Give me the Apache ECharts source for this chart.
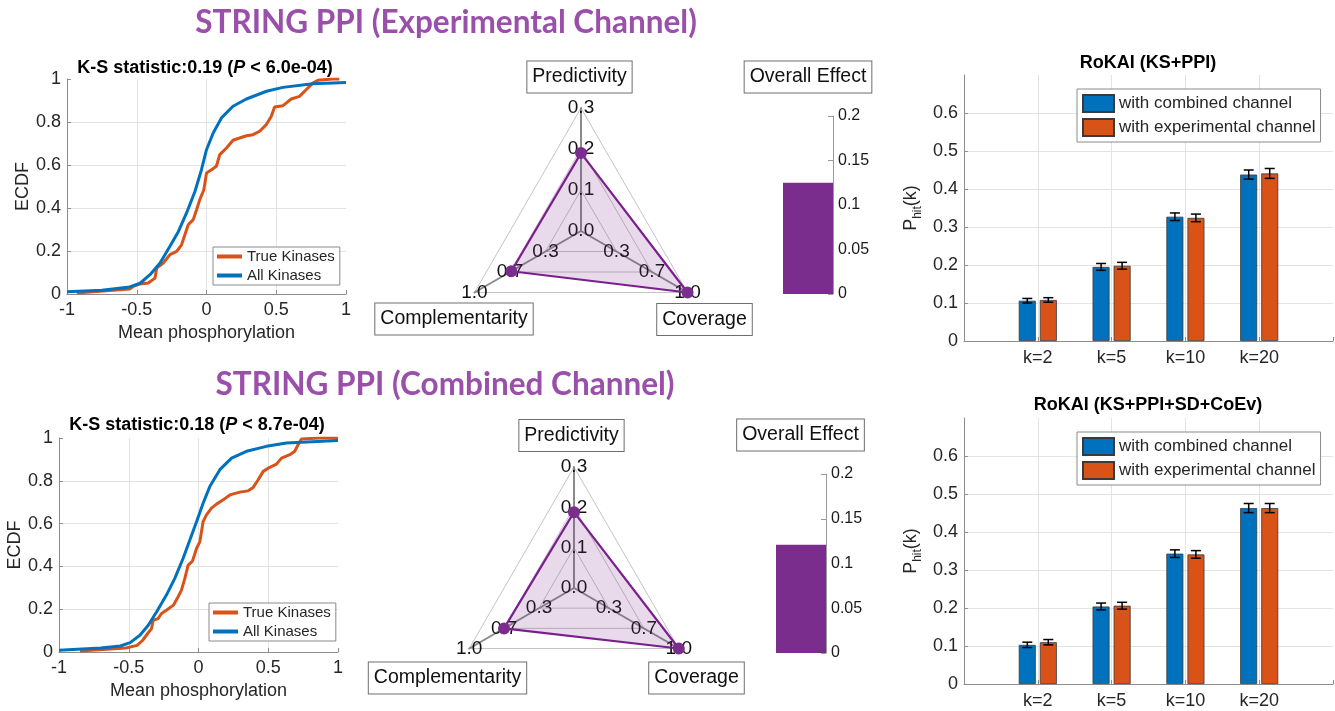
<!DOCTYPE html>
<html>
<head>
<meta charset="utf-8">
<script src="https://cdn.jsdelivr.net/npm/echarts@6/dist/echarts.min.js"></script>
<style>
  html, body { margin: 0; padding: 0; background: #fff; }
  #chart { width: 1335px; height: 711px; }
</style>
</head>
<body>
<div id="chart"></div>
<script>
// ---------- data ----------
// ECDF curves: [mean phosphorylation, cumulative fraction]
const ecdfExpTrue = [[-0.93,0.005],[-0.55,0.023],[-0.524,0.036],[-0.476,0.047],[-0.417,0.051],[-0.369,0.074],[-0.357,0.121],[-0.31,0.144],[-0.262,0.183],[-0.214,0.198],[-0.179,0.229],[-0.155,0.276],[-0.131,0.322],[-0.095,0.346],[-0.071,0.392],[-0.048,0.439],[-0.019,0.485],[0.0,0.563],[0.036,0.578],[0.071,0.594],[0.095,0.648],[0.143,0.679],[0.19,0.715],[0.286,0.736],[0.333,0.741],[0.381,0.757],[0.429,0.788],[0.464,0.826],[0.488,0.87],[0.548,0.876],[0.571,0.888],[0.607,0.907],[0.667,0.919],[0.714,0.95],[0.762,0.981],[0.798,0.994],[0.905,1.0],[0.952,1.0]];
const ecdfExpAll = [[-1.0,0.01],[-0.75,0.017],[-0.55,0.033],[-0.476,0.05],[-0.405,0.09],[-0.333,0.144],[-0.262,0.222],[-0.202,0.29],[-0.143,0.377],[-0.083,0.477],[-0.036,0.578],[0.0,0.671],[0.048,0.749],[0.107,0.819],[0.19,0.873],[0.286,0.907],[0.43,0.943],[0.548,0.961],[0.762,0.978],[1.0,0.984]];
const ecdfCombTrue = [[-0.85,0.005],[-0.52,0.019],[-0.44,0.031],[-0.4,0.055],[-0.36,0.09],[-0.337,0.109],[-0.325,0.148],[-0.29,0.156],[-0.265,0.18],[-0.23,0.195],[-0.18,0.219],[-0.146,0.258],[-0.122,0.289],[-0.098,0.344],[-0.074,0.406],[-0.043,0.425],[-0.014,0.484],[0.01,0.516],[0.033,0.609],[0.057,0.641],[0.093,0.672],[0.129,0.691],[0.177,0.711],[0.225,0.734],[0.296,0.747],[0.356,0.753],[0.392,0.769],[0.428,0.805],[0.464,0.844],[0.511,0.863],[0.559,0.878],[0.595,0.906],[0.655,0.922],[0.69,0.938],[0.714,0.969],[0.738,0.995],[0.87,1.0],[1.0,1.0]];
const ecdfCombAll = [[-1.0,0.008],[-0.7,0.019],[-0.56,0.028],[-0.49,0.044],[-0.42,0.078],[-0.36,0.125],[-0.3,0.188],[-0.23,0.266],[-0.17,0.344],[-0.11,0.438],[-0.062,0.523],[-0.014,0.609],[0.033,0.695],[0.081,0.773],[0.153,0.852],[0.237,0.906],[0.344,0.938],[0.487,0.961],[0.63,0.977],[1.0,0.988]];

// Radar scores: [Predictivity, Complementarity, Coverage]
const radarIndicators = ['Predictivity', 'Complementarity', 'Coverage'];
const radarMax = [0.3, 1.0, 1.0];
const radarExp = [0.19, 0.654, 1.0];
const radarComb = [0.188, 0.668, 1.0];

// Overall effect
const overallExp = 0.125;
const overallComb = 0.121;

// Hit rates
const kLabels = ['k=2', 'k=5', 'k=10', 'k=20'];
const hitKsPpiCombined = [0.106, 0.195, 0.327, 0.438];
const hitKsPpiExperimental = [0.108, 0.198, 0.324, 0.441];
const errKsPpiCombined = [0.006, 0.009, 0.010, 0.012];
const errKsPpiExperimental = [0.006, 0.009, 0.010, 0.013];
const hitFullCombined = [0.103, 0.204, 0.343, 0.463];
const hitFullExperimental = [0.110, 0.206, 0.341, 0.463];
const errFullCombined = [0.007, 0.009, 0.010, 0.012];
const errFullExperimental = [0.007, 0.009, 0.010, 0.012];

// ---------- styling ----------
const FONT = '"Liberation Sans", Arial, sans-serif';
const TXT = '#262626';
const AXIS = '#8c8c8c';
const GRIDC = '#e3e3e3';
const NONE = 'rgba(0,0,0,0)';
const ORANGE = '#D95319';
const BLUE = '#0072BD';
const PURPLE = '#7B2D8E';
const TITLE_PURPLE = '#9A4FAB';

function ecdfX(idx) {
  return {
    type: 'value', gridIndex: idx, min: -1, max: 1, interval: 0.5,
    axisLine: { show: true, onZero: false, lineStyle: { color: AXIS } },
    axisTick: { show: true, inside: true, length: 4, lineStyle: { color: AXIS } },
    axisLabel: { fontSize: 18, color: TXT, fontFamily: FONT, margin: 7 },
    splitLine: { show: true, lineStyle: { color: [GRIDC, GRIDC, GRIDC, GRIDC, NONE] } },
    name: 'Mean phosphorylation', nameLocation: 'middle', nameGap: 30,
    nameTextStyle: { fontSize: 18, color: TXT, fontFamily: FONT }
  };
}
function ecdfY(idx) {
  return {
    type: 'value', gridIndex: idx, min: 0, max: 1, interval: 0.2,
    axisLine: { show: true, onZero: false, lineStyle: { color: AXIS } },
    axisTick: { show: true, inside: true, length: 4, lineStyle: { color: AXIS } },
    axisLabel: { fontSize: 18, color: TXT, fontFamily: FONT, margin: 6 },
    splitLine: { show: true, lineStyle: { color: [GRIDC, GRIDC, GRIDC, GRIDC, GRIDC, NONE] } },
    name: 'ECDF', nameLocation: 'middle', nameGap: 35, nameRotate: 90,
    nameTextStyle: { fontSize: 18, color: TXT, fontFamily: FONT }
  };
}
function overallX(idx) {
  return { type: 'category', gridIndex: idx, data: [''], show: false };
}
function overallY(idx) {
  return {
    type: 'value', gridIndex: idx, position: 'right', min: 0, max: 0.2, interval: 0.05,
    axisLine: { show: true, lineStyle: { color: '#9a9a9a' } },
    axisTick: { show: true, inside: true, length: 5, lineStyle: { color: '#9a9a9a' } },
    axisLabel: { fontSize: 16, color: '#1a1a1a', fontFamily: FONT, margin: 5 },
    splitLine: { show: false }
  };
}
const hitCats = [' '].concat(kLabels, ['  ']);
function hitX(idx) {
  return {
    type: 'category', gridIndex: idx, data: hitCats, boundaryGap: false,
    axisLine: { show: true, lineStyle: { color: AXIS } },
    axisTick: { show: true, inside: true, length: 4, lineStyle: { color: AXIS } },
    axisLabel: { fontSize: 18, color: TXT, fontFamily: FONT, margin: 8, interval: 0 },
    splitLine: { show: true, lineStyle: { color: [NONE, GRIDC, GRIDC, GRIDC, GRIDC, NONE] } }
  };
}
function hitY(idx) {
  return {
    type: 'value', gridIndex: idx, min: 0, max: 0.7, interval: 0.1,
    axisLine: { show: true, lineStyle: { color: AXIS } },
    axisTick: { show: true, inside: true, length: 4, lineStyle: { color: AXIS } },
    axisLabel: { fontSize: 18, color: TXT, fontFamily: FONT, margin: 6, showMaxLabel: false },
    splitLine: { show: true, lineStyle: { color: [NONE, GRIDC, GRIDC, GRIDC, GRIDC, GRIDC, GRIDC, NONE] } },
    name: '{p|P}{s|hit}{p|(k)}', nameLocation: 'middle', nameGap: 40, nameRotate: 90,
    nameTextStyle: {
      color: TXT, fontFamily: FONT,
      rich: {
        p: { fontSize: 18, color: TXT, fontFamily: FONT, lineHeight: 22, verticalAlign: 'top' },
        s: { fontSize: 12, color: TXT, fontFamily: FONT, lineHeight: 22, verticalAlign: 'bottom' }
      }
    }
  };
}

function radarDef(center, radius) {
  return {
    center: center, radius: radius, startAngle: 90, splitNumber: 3, shape: 'polygon',
    indicator: radarIndicators.map((n, i) => ({ name: n, min: 0, max: radarMax[i] })),
    axisName: { show: false },
    axisLine: { lineStyle: { color: '#8a8a8a', width: 2 } },
    splitLine: { lineStyle: { color: '#c4c4c4', width: 1 } },
    splitArea: { show: false },
    axisTick: { show: false },
    axisLabel: { show: false }
  };
}
// ring tick values along each radar axis; the shared centre value is printed once
function ringLevels() {
  const levels = [];
  for (let s = 0; s <= 3; s++) {
    levels.push({ value: radarMax.map((m, i) => (s === 0 && i > 0) ? '-' : m * s / 3) });
  }
  return levels;
}
function radarTickSeries(idx) {
  return {
    type: 'radar', radarIndex: idx, z: 2, silent: true,
    symbol: 'circle', symbolSize: 1,
    itemStyle: { color: NONE },
    lineStyle: { width: 0, opacity: 0 },
    label: {
      show: true, position: 'inside', fontSize: 19, color: '#111', fontFamily: FONT,
      formatter: p => { const v = Number(p.value); return isFinite(v) ? v.toFixed(1) : ''; }
    },
    emphasis: { disabled: true },
    data: ringLevels()
  };
}
function radarDataSeries(idx, vals) {
  return {
    type: 'radar', radarIndex: idx, z: 3, silent: true,
    symbol: 'circle', symbolSize: 12,
    itemStyle: { color: PURPLE },
    lineStyle: { color: '#7B1E8E', width: 2.2 },
    areaStyle: { color: 'rgba(126,47,142,0.25)' },
    emphasis: { disabled: true },
    data: [{ value: vals }]
  };
}
function ecdfLine(name, data, idx, color) {
  return {
    type: 'line', name: name, data: data, xAxisIndex: idx, yAxisIndex: idx,
    showSymbol: false, symbol: 'none', lineStyle: { color: color, width: 3 },
    itemStyle: { color: color }, silent: true
  };
}
function hitBar(name, vals, idx, color) {
  return {
    type: 'bar', name: name, xAxisIndex: idx, yAxisIndex: idx,
    data: [null].concat(vals, [null]), barWidth: 17, barGap: '24%',
    itemStyle: { color: color, borderColor: '#3a3a3a', borderWidth: 0.8 }, silent: true
  };
}
function hitErr(vals, errs, idx, offset) {
  return {
    type: 'custom', xAxisIndex: idx, yAxisIndex: idx, silent: true, z: 5,
    data: vals.map((v, i) => [i + 1, v, errs[i]]),
    renderItem: function (params, api) {
      const c = api.value(0), v = api.value(1), e = api.value(2);
      const hi = api.coord([c, v + e]);
      const lo = api.coord([c, v - e]);
      const x = hi[0] + offset;
      const st = { stroke: '#000', lineWidth: 1.5 };
      return {
        type: 'group', children: [
          { type: 'line', shape: { x1: x, y1: hi[1], x2: x, y2: lo[1] }, style: st },
          { type: 'line', shape: { x1: x - 5, y1: hi[1], x2: x + 5, y2: hi[1] }, style: st },
          { type: 'line', shape: { x1: x - 5, y1: lo[1], x2: x + 5, y2: lo[1] }, style: st }
        ]
      };
    }
  };
}
function boxLabel(text, cx, cy) {
  return {
    type: 'text', x: cx, y: cy, silent: true,
    style: {
      text: text, fill: '#111', font: '19.5px ' + FONT, align: 'center', verticalAlign: 'middle',
      backgroundColor: '#fff', borderColor: '#6e6e6e', borderWidth: 1, padding: [6, 5, 5, 5]
    }
  };
}
function plainTitle(text, cx, cy, size, color, weight, family) {
  return {
    type: 'text', x: cx, y: cy, silent: true,
    style: { text: text, fill: color, font: weight + ' ' + size + 'px ' + family, align: 'center', verticalAlign: 'middle' }
  };
}
function ksTitle(stat, pval, cx, cy) {
  return {
    type: 'text', x: cx, y: cy, silent: true,
    style: {
      text: '{n|K-S statistic:' + stat + ' (}{i|P}{n| < ' + pval + ')}',
      align: 'center', verticalAlign: 'middle',
      rich: {
        n: { fontSize: 18, fontWeight: 'bold', fontFamily: FONT, fill: '#000', color: '#000' },
        i: { fontSize: 18, fontWeight: 'bold', fontStyle: 'italic', fontFamily: FONT, fill: '#000', color: '#000' }
      }
    }
  };
}
function legendBox(left, top, names, opts) {
  return Object.assign({
    left: left, top: top, orient: 'vertical', data: names, icon: 'rect',
    backgroundColor: '#fff', borderColor: '#8a8a8a', borderWidth: 1,
    selectedMode: false,
    textStyle: { color: TXT, fontFamily: FONT }
  }, opts);
}

const option = {
  animation: false,
  backgroundColor: '#fff',
  grid: [
    { left: 67, top: 79, width: 279, height: 215, outerBoundsMode: 'none' },
    { left: 59, top: 438, width: 279, height: 214, outerBoundsMode: 'none' },
    { left: 783, top: 116, width: 50, height: 178, outerBoundsMode: 'none' },
    { left: 776, top: 474, width: 50, height: 179, outerBoundsMode: 'none' },
    { left: 964, top: 75, width: 369, height: 266, outerBoundsMode: 'none' },
    { left: 964, top: 418, width: 369, height: 266, outerBoundsMode: 'none' }
  ],
  xAxis: [ecdfX(0), ecdfX(1), overallX(2), overallX(3), hitX(4), hitX(5)],
  yAxis: [ecdfY(0), ecdfY(1), overallY(2), overallY(3), hitY(4), hitY(5)],
  radar: [radarDef([581, 231], 123), radarDef([574, 588], 121)],
  legend: [
    legendBox(213, 247, ['True Kinases', 'All Kinases'], { itemWidth: 25, itemHeight: 4, itemGap: 4, padding: [2, 5, 2, 4], textStyle: { color: TXT, fontFamily: FONT, fontSize: 15 } }),
    legendBox(209, 603, ['True Kinases', 'All Kinases'], { itemWidth: 25, itemHeight: 4, itemGap: 4, padding: [2, 5, 2, 4], textStyle: { color: TXT, fontFamily: FONT, fontSize: 15 } }),
    legendBox(1077, 89, ['with combined channel', 'with experimental channel'], { itemWidth: 31, itemHeight: 17, itemGap: 5, padding: [5, 5, 5, 5], textStyle: { color: TXT, fontFamily: FONT, fontSize: 17 } }),
    legendBox(1077, 432, ['with combined channel', 'with experimental channel'], { itemWidth: 31, itemHeight: 17, itemGap: 5, padding: [5, 5, 5, 5], textStyle: { color: TXT, fontFamily: FONT, fontSize: 17 } })
  ],
  series: [
    ecdfLine('True Kinases', ecdfExpTrue, 0, ORANGE),
    ecdfLine('All Kinases', ecdfExpAll, 0, BLUE),
    ecdfLine('True Kinases', ecdfCombTrue, 1, ORANGE),
    ecdfLine('All Kinases', ecdfCombAll, 1, BLUE),
    radarTickSeries(0),
    radarDataSeries(0, radarExp),
    radarTickSeries(1),
    radarDataSeries(1, radarComb),
    { type: 'bar', xAxisIndex: 2, yAxisIndex: 2, data: [overallExp], barWidth: '100%', itemStyle: { color: PURPLE }, silent: true },
    { type: 'bar', xAxisIndex: 3, yAxisIndex: 3, data: [overallComb], barWidth: '100%', itemStyle: { color: PURPLE }, silent: true },
    hitBar('with combined channel', hitKsPpiCombined, 4, BLUE),
    hitBar('with experimental channel', hitKsPpiExperimental, 4, ORANGE),
    hitErr(hitKsPpiCombined, errKsPpiCombined, 4, -10.5),
    hitErr(hitKsPpiExperimental, errKsPpiExperimental, 4, 10.5),
    hitBar('with combined channel', hitFullCombined, 5, BLUE),
    hitBar('with experimental channel', hitFullExperimental, 5, ORANGE),
    hitErr(hitFullCombined, errFullCombined, 5, -10.5),
    hitErr(hitFullExperimental, errFullExperimental, 5, 10.5)
  ],
  graphic: {
    elements: [
      plainTitle('STRING PPI (Experimental Channel)', 446, 23, 31.5, TITLE_PURPLE, 'bold', 'Lato, "Open Sans", sans-serif'),
      plainTitle('STRING PPI (Combined Channel)', 445, 385, 31.5, TITLE_PURPLE, 'bold', 'Lato, "Open Sans", sans-serif'),
      ksTitle('0.19', '6.0e-04', 205, 68),
      ksTitle('0.18', '8.7e-04', 197, 425),
      plainTitle('RoKAI (KS+PPI)', 1148, 63, 18, '#000', 'bold', FONT),
      plainTitle('RoKAI (KS+PPI+SD+CoEv)', 1148, 405, 18, '#000', 'bold', FONT),
      boxLabel('Predictivity', 579.5, 77),
      boxLabel('Complementarity', 454, 319),
      boxLabel('Coverage', 704.5, 319.5),
      boxLabel('Overall Effect', 808, 77),
      boxLabel('Predictivity', 571.5, 435.5),
      boxLabel('Complementarity', 447.5, 678),
      boxLabel('Coverage', 696.5, 678),
      boxLabel('Overall Effect', 800.5, 435)
    ]
  }
};

const chart = echarts.init(document.getElementById('chart'), null, { renderer: 'canvas' });
chart.setOption(option);
</script>
</body>
</html>
